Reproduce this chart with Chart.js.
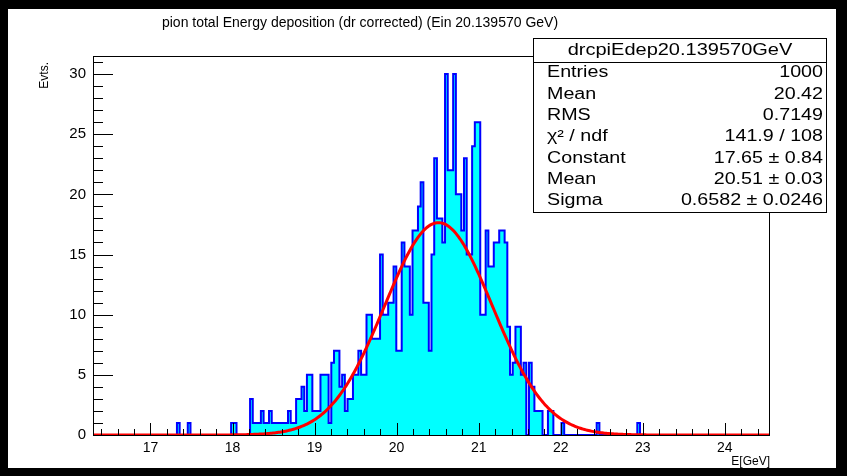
<!DOCTYPE html>
<html>
<head>
<meta charset="utf-8">
<script src="https://cdn.jsdelivr.net/npm/chart.js@4.4.1/dist/chart.umd.min.js"></script>
<style>
  html, body { margin: 0; padding: 0; background: #000; }
  canvas { display: block; }
</style>
</head>
<body>
<canvas id="histo" width="847" height="476"></canvas>
<script>
// binning of drcpiEdep20.139570GeV
const X_MIN = 16.3;
const X_MAX = 24.55;
const N_BINS = 250;

// bin contents, starting at bin FIRST_BIN (all other bins are empty)
const FIRST_BIN = 30;
const COUNTS = [
  0, 1, 0, 0, 0, 1, 0, 0, 0, 0,
  0, 0, 0, 0, 0, 0, 0, 0, 0, 0,
  0, 1, 1, 0, 0, 0, 0, 0, 3, 1,
  1, 1, 2, 1, 1, 2, 1, 1, 1, 1,
  1, 1, 2, 1, 1, 3, 3, 4, 2, 5,
  5, 2, 2, 2, 5, 5, 5, 1, 6, 7,
  7, 4, 5, 2, 3, 3, 5, 5, 7, 5,
  5, 10, 10, 8, 8, 8, 15, 10, 10, 11,
  11, 14, 7, 7, 16, 14, 14, 10, 17, 17,
  19, 21, 11, 11, 7, 15, 23, 18, 18, 16,
  30, 22, 22, 30, 20, 20, 17, 23, 15, 15,
  24, 26, 26, 10, 10, 17, 14, 14, 16, 16,
  17, 17, 16, 9, 5, 6, 9, 9, 5, 6,
  0, 6, 4, 2, 2, 2, 0, 0, 2, 2,
  0, 0, 0, 1, 0, 0, 0, 0, 0, 0,
  0, 0, 0, 0, 0, 0, 1, 0, 0, 0,
  0, 0, 0, 0, 0, 0, 0, 0, 0, 0,
  0, 1
];

// gaus fit result
const FIT = { constant: 17.65, mean: 20.51, sigma: 0.6582 };

const X_TICKS = [17, 18, 19, 20, 21, 22, 23, 24];
const Y_TICKS = [0, 5, 10, 15, 20, 25, 30];
const Y_MAX = 31.5;

const TITLE = 'pion total Energy deposition (dr corrected) (Ein 20.139570 GeV)';
const X_TITLE = 'E[GeV]';
const Y_TITLE = 'Evts.';
const STATS_NAME = 'drcpiEdep20.139570GeV';
const STATS_LABELS = ['Entries', 'Mean', 'RMS', 'χ² / ndf', 'Constant', 'Mean', 'Sigma'];
const STATS_VALUES = ['1000', '20.42', '0.7149', '141.9 / 108', '17.65 ± 0.84', '20.51 ± 0.03', '0.6582 ± 0.0246'];

const FONT = '"Liberation Sans", Arial, Helvetica, sans-serif';

// step outline: one point per lower bin edge, closed at X_MAX
const binWidth = (X_MAX - X_MIN) / N_BINS;
const histPoints = [];
for (let i = 0; i < N_BINS; i++) {
  const k = i - FIRST_BIN;
  const y = (k >= 0 && k < COUNTS.length) ? COUNTS[k] : 0;
  histPoints.push({ x: X_MIN + i * binWidth, y: y });
}
histPoints.push({ x: X_MAX, y: 0 });

function gaus(x) {
  const t = (x - FIT.mean) / FIT.sigma;
  return FIT.constant * Math.exp(-0.5 * t * t);
}
const fitPoints = [];
for (let i = 0; i <= 500; i++) {
  const x = X_MIN + (X_MAX - X_MIN) * i / 500;
  fitPoints.push({ x: x, y: gaus(x) });
}

// text drawn a bit wider than the font, like the stats box of the canvas
function wideText(c, txt, x, y, align, sx) {
  c.save();
  c.translate(x, y);
  c.scale(sx, 1);
  c.textAlign = align;
  c.fillText(txt, 0, 0);
  c.restore();
}

// pad background, frame, inner ticks, titles and stats box
const rootPad = {
  id: 'rootPad',
  beforeDraw(chart) {
    const c = chart.ctx;
    c.save();
    c.fillStyle = '#000';
    c.fillRect(0, 0, chart.width, chart.height);
    c.fillStyle = '#fff';
    c.fillRect(8, 9, 828, 459);
    c.restore();
  },
  afterDraw(chart) {
    const c = chart.ctx;
    const a = chart.chartArea;
    const xs = chart.scales.x;
    const ys = chart.scales.y;
    c.save();
    c.strokeStyle = '#000';
    c.lineWidth = 1;

    // frame
    c.strokeRect(Math.round(a.left) + 0.5, Math.round(a.top) + 0.5,
                 Math.round(a.right - a.left) - 1, Math.round(a.bottom - a.top));

    // x ticks (inside the frame)
    c.beginPath();
    for (let v = Math.ceil(X_MIN / 0.2) * 0.2; v <= X_MAX + 1e-9; v += 0.2) {
      const px = Math.round(xs.getPixelForValue(v)) + 0.5;
      const major = Math.abs(v - Math.round(v)) < 1e-6;
      c.moveTo(px, a.bottom);
      c.lineTo(px, a.bottom - (major ? 12 : 6));
    }
    // y ticks
    for (let v = 0; v <= Y_MAX; v += 1) {
      const py = Math.round(ys.getPixelForValue(v)) + 0.5;
      const major = v % 5 === 0;
      c.moveTo(a.left, py);
      c.lineTo(a.left + (major ? 20 : 10), py);
    }
    c.stroke();

    c.fillStyle = '#000';
    c.textBaseline = 'middle';
    // main title
    c.font = '14px ' + FONT;
    c.textAlign = 'center';
    c.fillText(TITLE, 360, 23);

    // axis titles
    c.font = '12px ' + FONT;
    c.textAlign = 'right';
    c.fillText(X_TITLE, a.right, 462);
    c.save();
    c.translate(45, 62);
    c.rotate(-Math.PI / 2);
    c.textAlign = 'right';
    c.fillText(Y_TITLE, 0, 0);
    c.restore();

    // stats box
    const bx = 533.5, by = 38.5, bw = 293, bh = 174;
    c.fillStyle = '#fff';
    c.fillRect(bx, by, bw, bh);
    c.strokeRect(bx, by, bw, bh);
    c.beginPath();
    c.moveTo(bx, 62.5);
    c.lineTo(bx + bw, 62.5);
    c.stroke();
    c.fillStyle = '#000';
    c.font = '16px ' + FONT;
    wideText(c, STATS_NAME, bx + bw / 2, 51, 'center', 1.25);
    for (let i = 0; i < STATS_LABELS.length; i++) {
      const ty = 73 + i * 21.3;
      wideText(c, STATS_LABELS[i], 547, ty, 'left', 1.23);
      wideText(c, STATS_VALUES[i], 823, ty, 'right', 1.23);
    }
    c.restore();
  }
};

new Chart(document.getElementById('histo'), {
  type: 'line',
  data: {
    datasets: [
      {
        label: 'gaus',
        data: fitPoints,
        borderColor: '#ff0000',
        borderWidth: 3,
        pointRadius: 0,
        fill: false,
        tension: 0
      },
      {
        label: STATS_NAME,
        data: histPoints,
        stepped: true,
        borderColor: '#0000ff',
        borderWidth: 2,
        backgroundColor: '#00ffff',
        fill: 'origin',
        pointRadius: 0
      }
    ]
  },
  options: {
    responsive: false,
    animation: false,
    events: [],
    layout: { padding: { left: 0, right: 77, top: 56, bottom: 0 } },
    plugins: {
      legend: { display: false },
      tooltip: { enabled: false },
      title: { display: false }
    },
    scales: {
      x: {
        type: 'linear',
        min: X_MIN,
        max: X_MAX,
        grid: { display: false, drawTicks: false },
        border: { display: false },
        afterBuildTicks: function(s) { s.ticks = X_TICKS.map(v => ({ value: v })); },
        afterFit: function(s) { s.height = 41; },
        ticks: {
          color: '#000',
          padding: 5,
          maxRotation: 0,
          autoSkip: false,
          font: { family: FONT, size: 14 }
        }
      },
      y: {
        type: 'linear',
        min: 0,
        max: Y_MAX,
        grid: { display: false, drawTicks: false },
        border: { display: false },
        afterBuildTicks: function(s) { s.ticks = Y_TICKS.map(v => ({ value: v })); },
        afterFit: function(s) { s.width = 93; },
        ticks: {
          color: '#000',
          padding: 7,
          font: { family: FONT, size: 15 }
        }
      }
    }
  },
  plugins: [rootPad]
});
</script>
</body>
</html>
